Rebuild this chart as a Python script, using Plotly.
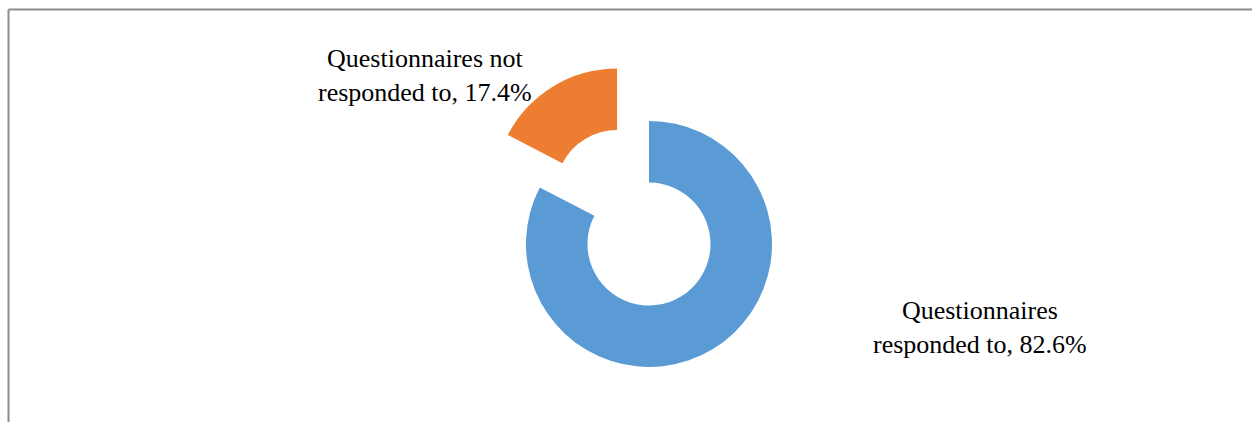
import math
import plotly.graph_objects as go

labels = ["Questionnaires responded to", "Questionnaires not responded to"]
values = [82.6, 17.4]
colors = ["#5B9BD5", "#ED7D31"]
pulls = [0.0, 0.5]
label_lines = [["Questionnaires", "responded to, {v}%"], ["Questionnaires not", "responded to, {v}%"]]

W, H = 1252, 422
cx, cy, r = 649, 244, 123  # pie centre / radius in px
hole = 0.5

fig = go.Figure()
total = sum(values)
start = 0.0
for i, (lab, val) in enumerate(zip(labels, values)):
    frac = val / total
    mid = (start + frac / 2) * 2 * math.pi  # clockwise from 12 o'clock
    start += frac
    dx = pulls[i] * r * math.sin(mid)
    dy = -pulls[i] * r * math.cos(mid)
    pcx, pcy = cx + dx, cy + dy
    cols = ["rgba(0,0,0,0)"] * len(values)
    cols[i] = colors[i]
    fig.add_trace(go.Pie(
        labels=labels, values=values, sort=False, direction="clockwise", rotation=0,
        hole=hole, marker=dict(colors=cols, line=dict(width=0)),
        textinfo="none", showlegend=False, hoverinfo="label+percent",
        domain=dict(x=[(pcx - r) / W, (pcx + r) / W], y=[(H - (pcy + r)) / H, (H - (pcy - r)) / H]),
    ))

label_pos = [(980, 327), (425, 75)]
for i in range(len(values)):
    txt = "<br>".join(l.format(v=values[i]) for l in label_lines[i])
    x, y = label_pos[i]
    fig.add_annotation(text=txt, x=x / W, y=1 - y / H, xref="paper", yref="paper",
                       showarrow=False, xanchor="center", yanchor="middle", align="center",
                       font=dict(family="'Liberation Serif', 'Times New Roman', serif", size=26, color="#000000"))

# chart frame (top and left edges visible)
fig.add_shape(type="line", xref="paper", yref="paper", x0=8.5 / W, x1=1, y0=1 - 9.5 / H, y1=1 - 9.5 / H,
              line=dict(color="#8c8c8c", width=2))
fig.add_shape(type="line", xref="paper", yref="paper", x0=8.5 / W, x1=8.5 / W, y0=0, y1=1 - 9.5 / H,
              line=dict(color="#8c8c8c", width=2))

fig.update_layout(width=W, height=H, margin=dict(l=0, r=0, t=0, b=0),
                  paper_bgcolor="white", plot_bgcolor="white")
fig.write_html("out.html")
